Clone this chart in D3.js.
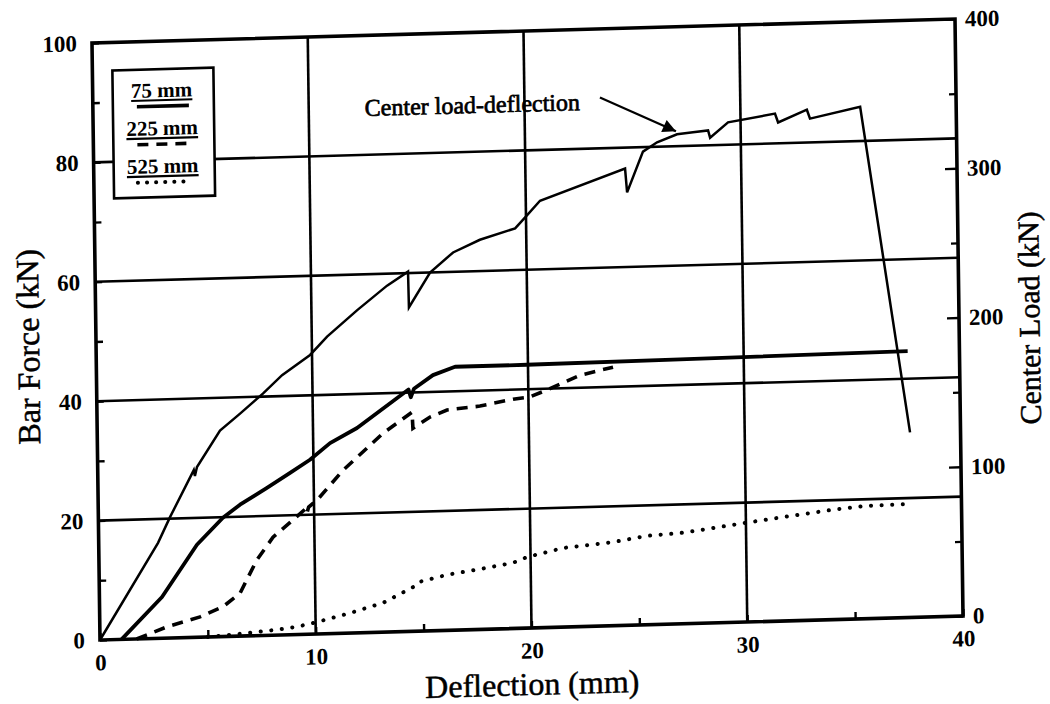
<!DOCTYPE html>
<html>
<head>
<meta charset="utf-8">
<script src="https://cdn.jsdelivr.net/npm/d3@7"></script>
<style>
  html, body { margin: 0; padding: 0; background: #fff; }
  svg { display: block; }
</style>
</head>
<body>
<svg id="chart" width="1050" height="704"></svg>
<script>
// ---------- data (deflection in mm) ----------
const seriesNames = ["75 mm", "225 mm", "525 mm"];
const xTickLabels = [0, 10, 20, 30, 40];
const yLeftTickLabels = [0, 20, 40, 60, 80, 100];
const yRightTickLabels = [0, 100, 200, 300, 400];

// Center load-deflection (right axis, kN)
const centerDefl = [0, 2.75, 3.32, 4.45, 4.5, 4.6, 5.69, 6.63, 7.7, 8.6, 9.91, 10.71, 12.11, 13.52, 14.5, 14.52, 15.52, 16.6, 17.85, 19.49, 19.95, 20.66, 24.62, 24.7, 25.46, 26.12, 27.05, 27.79, 28.49, 28.58, 29.42, 31.6, 31.74, 33.08, 33.22, 35.55, 37.66];
const centerLoad = [0, 64, 81, 112, 108, 114, 138, 149, 162, 174, 187, 199, 216, 232, 241, 217, 240, 253, 261, 268, 275, 286, 306, 290, 317, 323, 328, 329, 330, 325, 335, 340, 334, 342, 336, 343, 124];

// Bar force, 75 mm (left axis, kN)
const defl75 = [1.0, 2.9, 4.55, 5.77, 6.57, 7.83, 8.91, 9.84, 10.78, 12.04, 13.59, 14.45, 14.55, 14.7, 15.59, 16.62, 19.95, 27.05, 37.6];
const force75 = [0, 6.9, 15.5, 19.9, 22.0, 24.7, 27.1, 29.2, 31.9, 34.3, 38.3, 40.5, 39.2, 40.6, 42.8, 44.1, 44.1, 44.3, 44.6];

// Bar force, 225 mm
const defl225 = [1.7, 3.11, 4.65, 5.72, 6.52, 7.32, 8.08, 9.02, 9.6, 9.66, 9.75, 10.14, 11.37, 13.24, 14.6, 14.63, 15.43, 16.22, 17.75, 19.29, 20.07, 20.87, 22.41, 23.94];
const force225 = [0, 1.9, 3.4, 5.0, 7.2, 12.7, 16.4, 19.2, 21.0, 20.2, 21.3, 22.4, 27.3, 33.3, 36.7, 34.0, 35.8, 36.9, 37.4, 38.4, 38.7, 39.8, 42.1, 43.3];

// Bar force, 525 mm
const defl525 = [5.0, 6.95, 8.21, 9.14, 10.07, 11.6, 13.14, 14.54, 14.77, 16.12, 17.65, 19.18, 19.84, 21.51, 23.83, 25.41, 26.94, 27.87, 29.96, 31.72, 34.04, 35.62, 37.52];
const force525 = [0, 0.5, 0.9, 1.3, 2.0, 3.35, 4.9, 7.4, 8.2, 9.3, 10.1, 11.0, 11.9, 13.25, 14.0, 14.9, 15.2, 15.6, 16.6, 17.4, 18.4, 18.9, 19.0];

// annotation: text anchor and arrow, in (deflection, center load)
const annotText = "Center load-deflection";
const annotTextPos = [22.57, 346];
const annotArrowFrom = [23.5, 354];
const annotArrowTo = [27.0, 330];

// ---------- layout ----------
const W = 863, H = 597;
const font = "'Liberation Serif', 'Times New Roman', serif";
const svg = d3.select("#chart");
svg.append("rect").attr("width", 1050).attr("height", 704).attr("fill", "#fff");

// the scanned figure is slightly skewed; reproduce that with an affine transform
const g = svg.append("g").attr("transform", "matrix(1,-0.0278,0.0134,1,92,43)");

const x = d3.scaleLinear().domain([0, 40]).range([0, W]);
const yL = d3.scaleLinear().domain([0, 100]).range([H, 0]);
const yR = d3.scaleLinear().domain([0, 400]).range([H, 0]);

// grid
g.append("g").selectAll("line").data([10, 20, 30]).join("line")
  .attr("x1", d => x(d)).attr("x2", d => x(d)).attr("y1", 0).attr("y2", H)
  .attr("stroke", "#000").attr("stroke-width", 2.6);
g.append("g").selectAll("line").data([20, 40, 60, 80]).join("line")
  .attr("x1", 0).attr("x2", W).attr("y1", d => yL(d)).attr("y2", d => yL(d))
  .attr("stroke", "#000").attr("stroke-width", 2.6);

// axes
function styleAxis(sel) {
  sel.select(".domain").remove();
  sel.selectAll(".tick line").attr("stroke", "#000").attr("stroke-width", 2.4);
  sel.selectAll(".tick text").attr("font-family", font).attr("font-size", 23)
     .attr("font-weight", "bold").attr("fill", "#000");
}
const leftAx = g.append("g").call(
  d3.axisLeft(yL).tickValues(d3.range(0, 101, 10)).tickSize(-7).tickPadding(15)
    .tickFormat(d => yLeftTickLabels.includes(d) ? d : ""));
styleAxis(leftAx);

const botAx = g.append("g").attr("transform", `translate(0,${H})`).call(
  d3.axisBottom(x).tickValues(d3.range(0, 41, 5)).tickSize(-7).tickPadding(14)
    .tickFormat(d => xTickLabels.includes(d) ? d : ""));
styleAxis(botAx);

const rightAx = g.append("g").attr("transform", `translate(${W},0)`).call(
  d3.axisRight(yR).tickValues(d3.range(0, 401, 50)).tickSize(-7).tickPadding(10)
    .tickFormat(d => yRightTickLabels.includes(d) ? d : ""));
styleAxis(rightAx);
rightAx.selectAll(".tick").filter(d => yRightTickLabels.includes(d)).select("line").attr("x2", -12);

// frame
g.append("rect").attr("x", 0).attr("y", 0).attr("width", W).attr("height", H)
  .attr("fill", "none").attr("stroke", "#000").attr("stroke-width", 3.6);

// curves
const lineL = d3.line().x(d => x(d[0])).y(d => yL(d[1]));
const lineR = d3.line().x(d => x(d[0])).y(d => yR(d[1]));
const zip = (a, b) => a.map((v, i) => [v, b[i]]);

g.append("path").datum(zip(centerDefl, centerLoad)).attr("d", lineR)
  .attr("fill", "none").attr("stroke", "#000").attr("stroke-width", 2.5).attr("stroke-linejoin", "miter");
g.append("path").datum(zip(defl75, force75)).attr("d", lineL)
  .attr("fill", "none").attr("stroke", "#000").attr("stroke-width", 3.8).attr("stroke-linejoin", "round");
g.append("path").datum(zip(defl225, force225)).attr("d", lineL)
  .attr("fill", "none").attr("stroke", "#000").attr("stroke-width", 3.6)
  .attr("stroke-dasharray", "11 8");
g.append("path").datum(zip(defl525, force525)).attr("d", lineL)
  .attr("fill", "none").attr("stroke", "#000").attr("stroke-width", 4)
  .attr("stroke-linecap", "round").attr("stroke-dasharray", "0.1 10.5");

// annotation
svg.append("defs").append("marker").attr("id", "arr").attr("viewBox", "0 0 10 10")
  .attr("refX", 10).attr("refY", 5).attr("markerWidth", 8).attr("markerHeight", 6)
  .attr("markerUnits", "strokeWidth").attr("orient", "auto")
  .append("path").attr("d", "M0,0 L10,5 L0,10 z").attr("fill", "#000");
g.append("line")
  .attr("x1", x(annotArrowFrom[0])).attr("y1", yR(annotArrowFrom[1]))
  .attr("x2", x(annotArrowTo[0])).attr("y2", yR(annotArrowTo[1]))
  .attr("stroke", "#000").attr("stroke-width", 2.2).attr("marker-end", "url(#arr)");
g.append("text").attr("x", x(annotTextPos[0])).attr("y", yR(annotTextPos[1]))
  .attr("text-anchor", "end").attr("font-family", font).attr("font-size", 24)
  .attr("stroke", "#000").attr("stroke-width", 0.7).text(annotText);

// legend
const lg = g.append("g").attr("transform", "translate(20,28)");
lg.append("rect").attr("width", 101).attr("height", 128)
  .attr("fill", "#fff").attr("stroke", "#000").attr("stroke-width", 2.6);
const legStyles = [
  { dash: null, w: 3.6, cap: "butt" },
  { dash: "11 8", w: 3.6, cap: "butt" },
  { dash: "0.1 9", w: 4, cap: "round" }
];
seriesNames.forEach((name, i) => {
  const yb = 28 + i * 38;
  lg.append("text").attr("x", 49).attr("y", yb).attr("text-anchor", "middle")
    .attr("font-family", font).attr("font-size", 21).attr("font-weight", "bold")
    .attr("text-decoration", "underline").text(name);
  lg.append("line").attr("x1", 24).attr("x2", 76).attr("y1", yb + 9).attr("y2", yb + 9)
    .attr("stroke", "#000").attr("stroke-width", legStyles[i].w)
    .attr("stroke-linecap", legStyles[i].cap)
    .attr("stroke-dasharray", legStyles[i].dash);
});

// axis titles
g.append("text").attr("transform", `translate(-68,302) rotate(-90)`)
  .attr("text-anchor", "middle").attr("dominant-baseline", "central")
  .attr("font-family", font).attr("font-size", 32).attr("stroke", "#000").attr("stroke-width", 0.5)
  .text("Bar Force (kN)");
g.append("text").attr("transform", `translate(${W / 2},653)`)
  .attr("text-anchor", "middle").attr("dominant-baseline", "central")
  .attr("font-family", font).attr("font-size", 32).attr("stroke", "#000").attr("stroke-width", 0.5)
  .text("Deflection (mm)");
g.append("text").attr("transform", `translate(${W + 70},301) rotate(-90)`)
  .attr("text-anchor", "middle").attr("dominant-baseline", "central")
  .attr("font-family", font).attr("font-size", 30).attr("stroke", "#000").attr("stroke-width", 0.5)
  .text("Center Load (kN)");
</script>
</body>
</html>
